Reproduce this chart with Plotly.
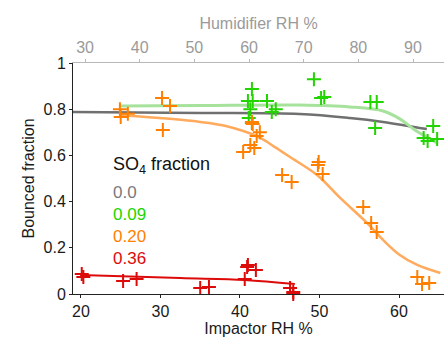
import plotly.graph_objects as go

# ---- data (impactor RH %, bounced fraction) ----
green_x = [41.5, 41.0, 41.6, 43.4, 41.3, 41.1, 41.5, 44.0, 44.5, 49.3, 50.2, 50.6,
           56.4, 57.2, 57.0, 64.3, 63.1, 63.6, 64.8]
green_y = [0.887, 0.835, 0.835, 0.835, 0.80, 0.762, 0.74, 0.788, 0.80, 0.93, 0.848, 0.853,
           0.831, 0.831, 0.719, 0.727, 0.675, 0.662, 0.671]

orange_x = [24.9, 25.0, 25.9, 30.2, 31.2, 30.3, 40.4, 41.3, 41.8, 41.5, 41.6, 42.1, 42.5,
            45.3, 46.5, 49.9, 49.8, 50.4, 55.5, 56.5, 57.2, 62.3, 62.9, 63.8]
orange_y = [0.80, 0.766, 0.78, 0.848, 0.814, 0.71, 0.615, 0.645, 0.632, 0.745, 0.736, 0.684, 0.70,
            0.515, 0.485, 0.571, 0.558, 0.52, 0.377, 0.307, 0.268, 0.074, 0.043, 0.048]

red_x = [20.1, 20.3, 25.3, 27.0, 35.0, 36.1, 40.9, 41.0, 42.0, 40.6, 46.3, 46.7, 46.7]
red_y = [0.087, 0.074, 0.056, 0.065, 0.026, 0.030, 0.117, 0.126, 0.104, 0.065, 0.026, 0.009, 0.0]

# fitted curves
grey_fit_x = [19.0, 35.0, 47.5, 53.8, 58.0, 63.5]
grey_fit_y = [0.788, 0.784, 0.779, 0.762, 0.745, 0.714]

green_fit_x = [24.9, 35.0, 47.5, 53.8, 58.0, 60.1, 62.0, 64.8]
green_fit_y = [0.814, 0.816, 0.818, 0.810, 0.792, 0.758, 0.71, 0.654]

orange_fit_x = [24.9, 29.9, 35.0, 38.1, 42.3, 44.4, 46.3, 49.7, 52.6, 56.0, 58.0, 60.1, 62.3, 65.2]
orange_fit_y = [0.775, 0.762, 0.745, 0.728, 0.680, 0.636, 0.593, 0.515, 0.416, 0.307, 0.234, 0.169, 0.126, 0.091]

red_fit_x = [19.9, 32.5, 40.6, 46.9]
red_fit_y = [0.082, 0.069, 0.061, 0.043]

legend_labels = ["0.0", "0.09", "0.20", "0.36"]
bottom_ticks = [20, 30, 40, 50, 60]
top_ticks = [30, 40, 50, 60, 70, 80, 90]
y_ticks = [0, 0.2, 0.4, 0.6, 0.8, 1]
y_ticklabels = ["0", "0.2", "0.4", "0.6", "0.8", "1"]

GREY = "#7a7a7a"
GREEN = "#22d400"
ORANGE = "#ff8000"
RED = "#dd0a0a"
FONT = "Liberation Sans, Arial, sans-serif"

fig = go.Figure()

# curves
fig.add_trace(go.Scatter(x=grey_fit_x, y=grey_fit_y, mode="lines", line=dict(color="#707070", width=2.5, shape="spline"), hoverinfo="skip"))
fig.add_trace(go.Scatter(x=green_fit_x, y=green_fit_y, mode="lines", line=dict(color="#a6e29c", width=3, shape="spline"), hoverinfo="skip"))
fig.add_trace(go.Scatter(x=orange_fit_x, y=orange_fit_y, mode="lines", line=dict(color="#ffaa5c", width=2.5, shape="spline"), hoverinfo="skip"))
fig.add_trace(go.Scatter(x=red_fit_x, y=red_fit_y, mode="lines", line=dict(color=RED, width=2, shape="spline"), hoverinfo="skip"))

# points
for xs, ys, c in [(green_x, green_y, GREEN), (orange_x, orange_y, ORANGE), (red_x, red_y, RED)]:
    fig.add_trace(go.Scatter(x=xs, y=ys, mode="markers", cliponaxis=False, hoverinfo="skip",
                             marker=dict(symbol="cross-thin", size=10, line=dict(color=c, width=2))))

# invisible trace on top axis
fig.add_trace(go.Scatter(x=[30, 90], y=[None, None], xaxis="x2", mode="markers", showlegend=False, hoverinfo="skip"))

fig.update_layout(
    width=444, height=345,
    margin=dict(l=73, r=0, t=63, b=51, autoexpand=False),
    paper_bgcolor="white", plot_bgcolor="white",
    showlegend=False,
    font=dict(family=FONT, size=16, color="#1a1a1a"),
    xaxis=dict(range=[19.0, 65.66], tickvals=bottom_ticks, showgrid=False, zeroline=False, automargin=False,
               showline=True, linecolor="#222222", linewidth=1, ticks="outside", ticklen=3,
               tickcolor="#222222", tickfont=dict(size=16, color="#1a1a1a"),
               title=dict(text="Impactor RH %", font=dict(size=16, color="#1a1a1a"), standoff=2)),
    xaxis2=dict(range=[27.8, 95.67], overlaying="x", side="top", anchor="y", tickvals=top_ticks, automargin=False,
                showgrid=False, zeroline=False, showline=True, linecolor="#b8b8b8", linewidth=1,
                ticks="outside", ticklen=3, tickcolor="#b8b8b8", tickfont=dict(size=16, color="#9a9a9a"),
                title=dict(text="Humidifier RH %", font=dict(size=16, color="#9a9a9a"), standoff=4)),
    yaxis=dict(range=[0, 1], tickvals=y_ticks, ticktext=y_ticklabels, showgrid=False, zeroline=False, automargin=False,
               showline=True, linecolor="#222222", linewidth=1, ticks="outside", ticklen=3,
               tickcolor="#222222", tickfont=dict(size=16, color="#1a1a1a"),
               title=dict(text="Bounced fraction", font=dict(size=16, color="#1a1a1a"), standoff=4)),
)

# legend-like text block (positions given in pixels, converted below)
fig.add_annotation(text="SO<sub>4</sub> fraction", x=111, y=165, showarrow=False,
                   xanchor="left", yanchor="middle",
                   font=dict(size=18, color="#111111", family=FONT))
leg_colors = [GREY, GREEN, ORANGE, RED]
leg_y = [192, 214, 236, 258]
for lab, c, py in zip(legend_labels, leg_colors, leg_y):
    fig.add_annotation(text=lab, x=111, y=py, showarrow=False, xanchor="left", yanchor="middle",
                       font=dict(size=17, color=c, family=FONT))

pl, pw, pt, ph = 73, 444 - 73, 63, 345 - 63 - 51
for a in fig.layout.annotations:
    a.xref = "paper"; a.yref = "paper"
    a.x = (a.x - pl) / pw
    a.y = 1 - (a.y - pt) / ph

fig.write_html("out.html", config={"displayModeBar": False},
               post_script="document.body.style.margin='0';document.body.style.overflow='hidden';")
